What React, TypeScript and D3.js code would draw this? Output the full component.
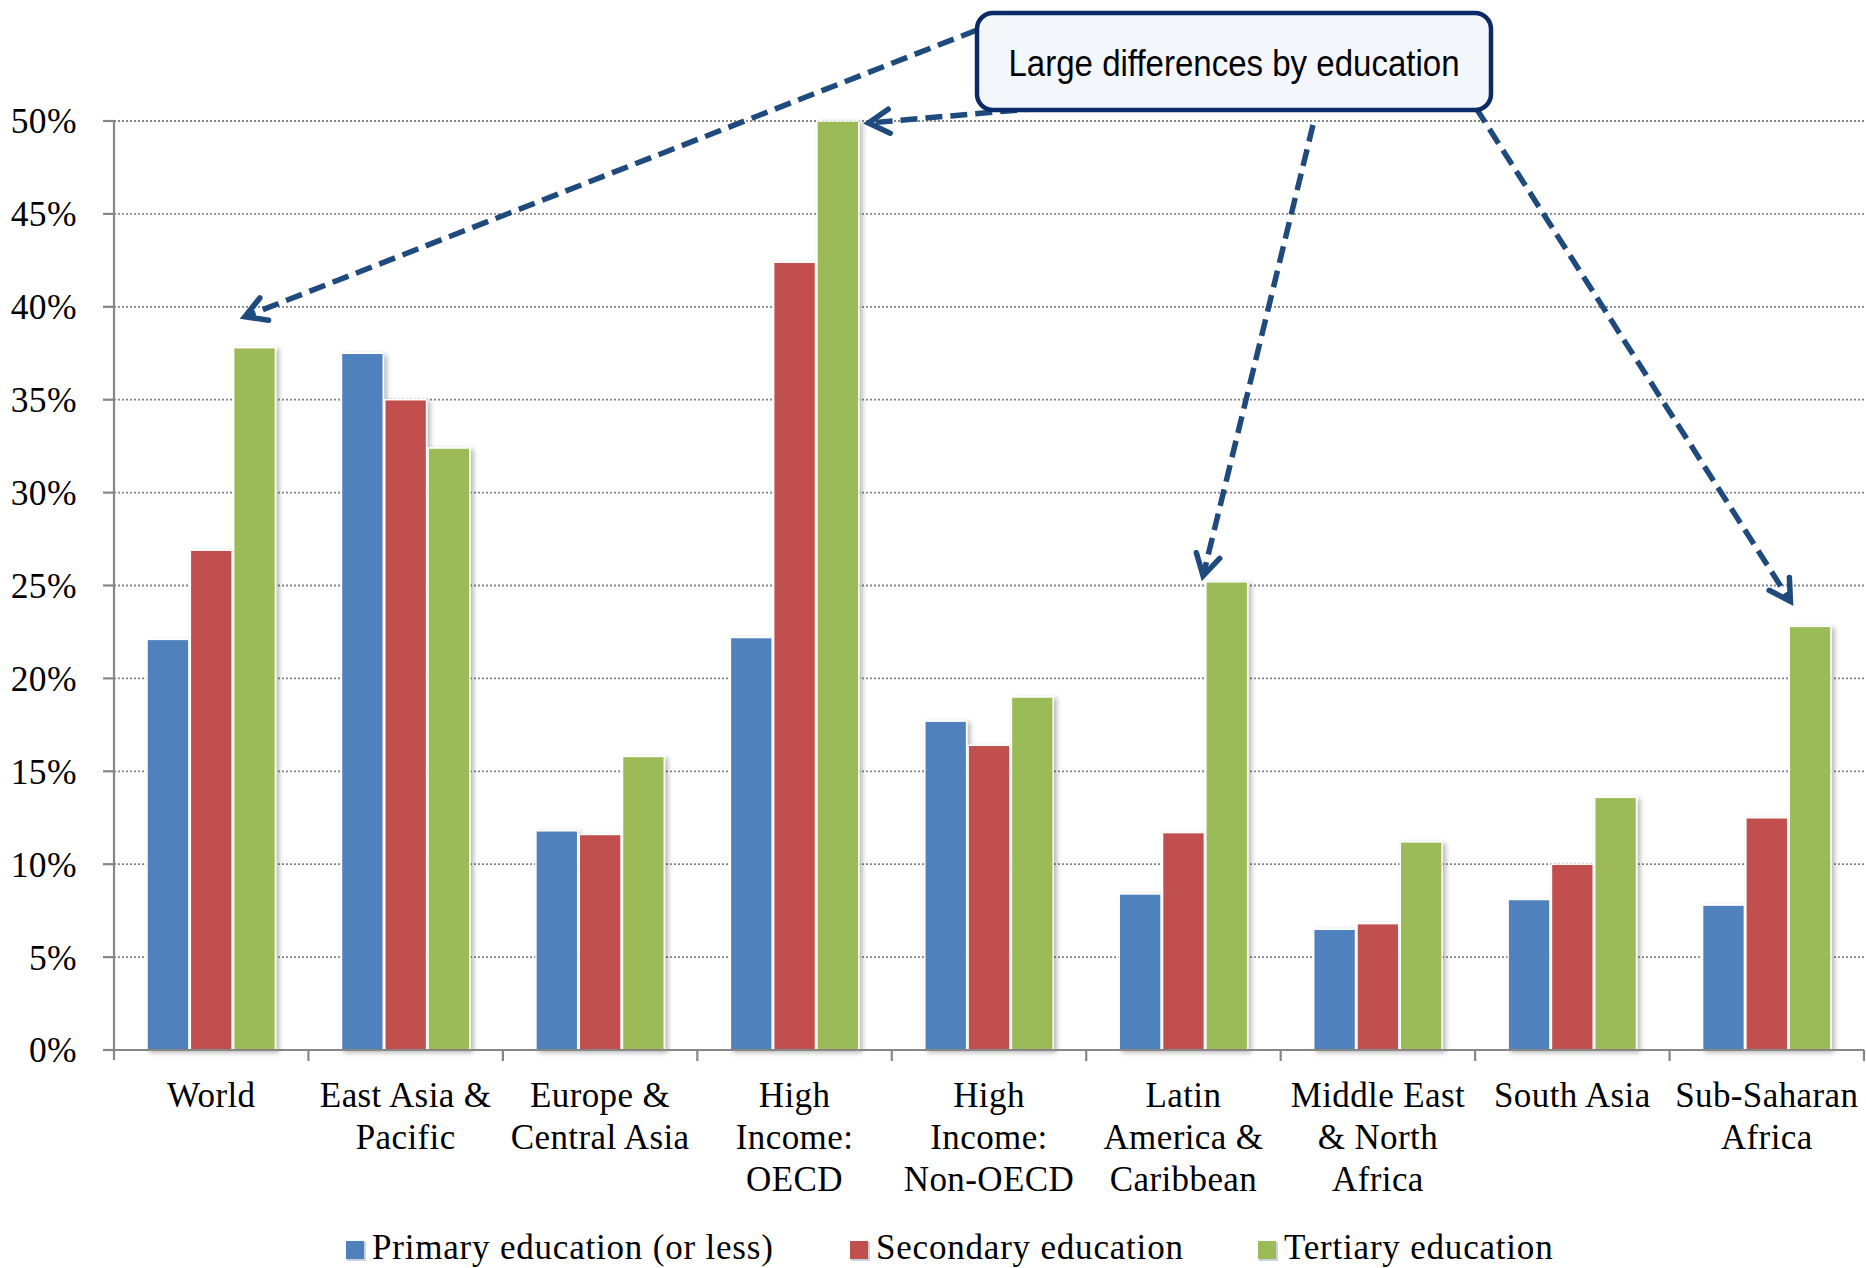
import React from "react";
import * as d3 from "d3";

// Share of adults by education level, by region
const categories: string[][] = [
  ["World"],
  ["East Asia &", "Pacific"],
  ["Europe &", "Central Asia"],
  ["High", "Income:", "OECD"],
  ["High", "Income:", "Non-OECD"],
  ["Latin", "America &", "Caribbean"],
  ["Middle East", "& North", "Africa"],
  ["South Asia"],
  ["Sub-Saharan", "Africa"],
];
const primary = [22.1, 37.5, 11.8, 22.2, 17.7, 8.4, 6.5, 8.1, 7.8];
const secondary = [26.9, 35.0, 11.6, 42.4, 16.4, 11.7, 6.8, 10.0, 12.5];
const tertiary = [37.8, 32.4, 15.8, 50.0, 19.0, 25.2, 11.2, 13.6, 22.8];
const seriesNames = ["Primary education (or less)", "Secondary education", "Tertiary education"];
const yTicks = [0, 5, 10, 15, 20, 25, 30, 35, 40, 45, 50];
const calloutText = "Large differences by education";
// categories the callout points to (tertiary bars)
const calloutTargets = [0, 3, 5, 8];

const W = 1866;
const H = 1268;
const colors = ["#4f81bd", "#c0504d", "#9bbb59"];
const seriesValues = [primary, secondary, tertiary];

const left = 114;
const right = 1864;
const top = 121;
const bottom = 1050;

const keys = categories.map((_, i) => String(i));
const x0 = d3.scaleBand<string>().domain(keys).range([left, right]).paddingInner(0.332).paddingOuter(0.166);
const x1 = d3.scaleBand<string>().domain(["0", "1", "2"]).range([0, x0.bandwidth()]);
const y = d3.scaleLinear().domain([0, 50]).range([bottom, top]);
const step = x0.step();

const serif = "'Liberation Serif', 'Times New Roman', serif";
const arrowColor = "#1f4a7e";

function Arrow({ x1: ax, y1: ay, x2: bx, y2: by }: { x1: number; y1: number; x2: number; y2: number }) {
  const ang = Math.atan2(by - ay, bx - ax);
  const len = 24;
  const spread = (30 * Math.PI) / 180;
  const a1x = bx - len * Math.cos(ang - spread);
  const a1y = by - len * Math.sin(ang - spread);
  const a2x = bx - len * Math.cos(ang + spread);
  const a2y = by - len * Math.sin(ang + spread);
  const ex = bx - 4 * Math.cos(ang);
  const ey = by - 4 * Math.sin(ang);
  return (
    <g stroke={arrowColor} fill="none" strokeWidth={5.5}>
      <line x1={ax} y1={ay} x2={ex} y2={ey} strokeDasharray="17 8" />
      <path d={`M${a1x},${a1y} L${bx},${by} L${a2x},${a2y}`} strokeLinejoin="miter" strokeLinecap="round" />
    </g>
  );
}

export default function App() {
  const box = { x: 977, y: 13, w: 514, h: 97 };
  const tertX = (i: number) => (x0(String(i)) as number) + (x1("2") as number);
  const tips = [
    { x: tertX(calloutTargets[0]) + 12, y: y(tertiary[calloutTargets[0]]) - 31 },
    { x: tertX(calloutTargets[1]) + x1.bandwidth() + 9, y: y(tertiary[calloutTargets[1]]) + 2 },
    { x: tertX(calloutTargets[2]) - 2, y: y(tertiary[calloutTargets[2]]) - 6 },
    { x: tertX(calloutTargets[3]) + 2, y: y(tertiary[calloutTargets[3]]) - 25 },
  ];
  const starts = [
    { x: box.x, y: box.y + 17 },
    { x: 1042, y: box.y + box.h - 2 },
    { x: 1313, y: 125 },
    { x: 1476, y: box.y + box.h - 2 },
  ];
  const legendX = [346, 850, 1258];

  return (
    <svg
      width={W}
      height={H}
      viewBox={`0 0 ${W} ${H}`}
      style={{ position: "absolute", left: 0, top: 0, background: "#fff" }}
    >
      <defs>
        <filter id="barShadow" x="-20%" y="-5%" width="150%" height="115%">
          <feDropShadow dx={3} dy={2} stdDeviation={2.5} floodColor="#000" floodOpacity={0.28} />
        </filter>
      </defs>
      <rect width={W} height={H} fill="#fff" />

      {/* gridlines */}
      {yTicks.filter((t) => t > 0).map((t) => (
        <line key={t} x1={left} x2={W} y1={y(t)} y2={y(t)} stroke="#858585" strokeWidth={1.8} strokeDasharray="2 2" />
      ))}

      {/* bars */}
      {categories.map((_, ci) => (
        <g key={ci} transform={`translate(${x0(String(ci))},0)`}>
          {seriesValues.map((vals, si) => (
            <rect
              key={si}
              x={(x1(String(si)) as number) + 0.75}
              y={y(vals[ci])}
              width={x1.bandwidth() - 1.5}
              height={bottom - y(vals[ci])}
              fill={colors[si]}
              stroke="#fff"
              strokeWidth={1.5}
              filter="url(#barShadow)"
            />
          ))}
        </g>
      ))}

      {/* axes */}
      <line x1={left} x2={left} y1={top} y2={bottom + 10} stroke="#868686" strokeWidth={2.2} />
      <line x1={left - 11} x2={right} y1={bottom} y2={bottom} stroke="#868686" strokeWidth={2.2} />
      {yTicks.map((t) => (
        <g key={t}>
          <line x1={left - 11} x2={left} y1={y(t)} y2={y(t)} stroke="#868686" strokeWidth={2.2} />
          <text x={77} y={y(t)} dy="0.35em" textAnchor="end" fontFamily={serif} fontSize={35.5} letterSpacing={0.4} fill="#000">
            {`${t}%`}
          </text>
        </g>
      ))}
      {d3.range(1, categories.length + 1).map((i) => (
        <line key={i} x1={left + i * step} x2={left + i * step} y1={bottom} y2={bottom + 11} stroke="#868686" strokeWidth={2.2} />
      ))}

      {/* category labels */}
      {categories.map((lines, ci) => (
        <text
          key={ci}
          x={(x0(String(ci)) as number) + x0.bandwidth() / 2}
          y={1107}
          textAnchor="middle"
          fontFamily={serif}
          fontSize={35}
          letterSpacing={0.4}
          fill="#000"
        >
          {lines.map((ln, li) => (
            <tspan key={li} x={(x0(String(ci)) as number) + x0.bandwidth() / 2} dy={li === 0 ? 0 : 42}>
              {ln}
            </tspan>
          ))}
        </text>
      ))}

      {/* legend */}
      {seriesNames.map((name, si) => (
        <g key={name}>
          <rect x={legendX[si] + 1} y={1242} width={19} height={19} fill="#c9d3df" />
          <rect x={legendX[si]} y={1241} width={18} height={18} fill={colors[si]} />
          <text x={legendX[si] + 26} y={1259} fontFamily={serif} fontSize={35} letterSpacing={0.8} fill="#000">
            {name}
          </text>
        </g>
      ))}

      {/* callout arrows */}
      {starts.map((s, i) => (
        <Arrow key={i} x1={s.x} y1={s.y} x2={tips[i].x} y2={tips[i].y} />
      ))}

      {/* callout box */}
      <rect x={box.x} y={box.y} width={box.w} height={box.h} rx={16} fill="#f3f7fc" stroke="#0d2a68" strokeWidth={4.5} />
      <text
        x={box.x + box.w / 2}
        y={76}
        textAnchor="middle"
        fontFamily="'Liberation Sans Narrow', 'Arial Narrow', 'Liberation Sans', Arial, sans-serif"
        fontSize={36}
        textLength={451}
        lengthAdjust="spacingAndGlyphs"
        fill="#000"
      >
        {calloutText}
      </text>
    </svg>
  );
}
